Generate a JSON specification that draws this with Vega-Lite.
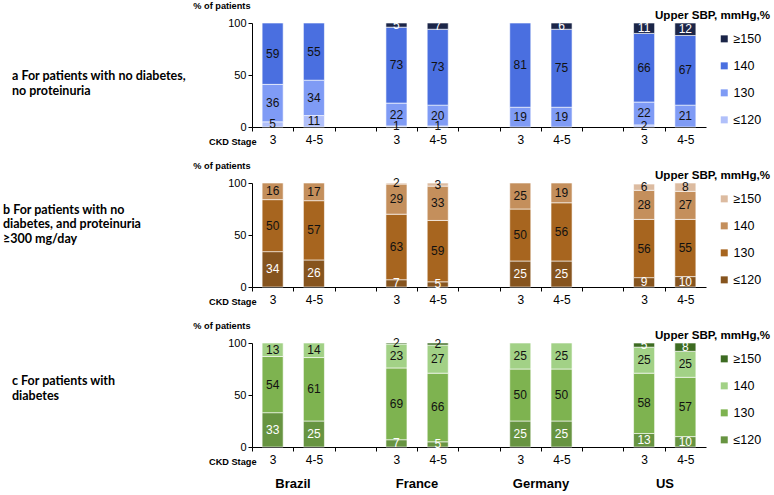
{
  "$schema": "https://vega.github.io/schema/vega-lite/v6.json",
  "padding": {"left": 3, "top": 1, "right": 0, "bottom": 0},
  "config": {
    "font": "Liberation Sans",
    "view": {"stroke": null},
    "axis": {"domainColor": "#000", "tickColor": "#000", "labelColor": "#000", "titleColor": "#000", "grid": false},
    "legend": {"orient": "none", "direction": "vertical", "legendX": 403, "legendY": -13, "titleFontSize": 11.6, "titleFontWeight": "bold", "titleColor": "#000", "titlePadding": 11, "symbolType": "square", "symbolSize": 49, "symbolOffset": 63, "symbolStrokeWidth": 0, "labelFontSize": 12.5, "labelColor": "#000", "rowPadding": 14, "labelOffset": 3},
    "title": {"orient": "top", "anchor": "start", "frame": "group", "offset": 0, "baseline": "top", "font": "Lato", "fontSize": 16, "fontWeight": "bold", "color": "rgba(0,0,0,0)", "subtitleFont": "Lato", "subtitleFontSize": 12.5, "subtitleFontWeight": "bold", "subtitleColor": "#000", "subtitlePadding": -15}
  },
  "datasets": {
    "panelA": [
      {"country": "Brazil", "slot": "Brazil|3", "sbp": "≤120", "k": 1, "v": 5},
      {"country": "Brazil", "slot": "Brazil|3", "sbp": "130", "k": 2, "v": 36},
      {"country": "Brazil", "slot": "Brazil|3", "sbp": "140", "k": 3, "v": 59},
      {"country": "Brazil", "slot": "Brazil|4-5", "sbp": "≤120", "k": 1, "v": 11},
      {"country": "Brazil", "slot": "Brazil|4-5", "sbp": "130", "k": 2, "v": 34},
      {"country": "Brazil", "slot": "Brazil|4-5", "sbp": "140", "k": 3, "v": 55},
      {"country": "France", "slot": "France|3", "sbp": "≤120", "k": 1, "v": 1},
      {"country": "France", "slot": "France|3", "sbp": "130", "k": 2, "v": 22},
      {"country": "France", "slot": "France|3", "sbp": "140", "k": 3, "v": 73},
      {"country": "France", "slot": "France|3", "sbp": "≥150", "k": 4, "v": 5},
      {"country": "France", "slot": "France|4-5", "sbp": "≤120", "k": 1, "v": 1},
      {"country": "France", "slot": "France|4-5", "sbp": "130", "k": 2, "v": 20},
      {"country": "France", "slot": "France|4-5", "sbp": "140", "k": 3, "v": 73},
      {"country": "France", "slot": "France|4-5", "sbp": "≥150", "k": 4, "v": 7},
      {"country": "Germany", "slot": "Germany|3", "sbp": "130", "k": 2, "v": 19},
      {"country": "Germany", "slot": "Germany|3", "sbp": "140", "k": 3, "v": 81},
      {"country": "Germany", "slot": "Germany|4-5", "sbp": "130", "k": 2, "v": 19},
      {"country": "Germany", "slot": "Germany|4-5", "sbp": "140", "k": 3, "v": 75},
      {"country": "Germany", "slot": "Germany|4-5", "sbp": "≥150", "k": 4, "v": 6},
      {"country": "US", "slot": "US|3", "sbp": "≤120", "k": 1, "v": 2},
      {"country": "US", "slot": "US|3", "sbp": "130", "k": 2, "v": 22},
      {"country": "US", "slot": "US|3", "sbp": "140", "k": 3, "v": 66},
      {"country": "US", "slot": "US|3", "sbp": "≥150", "k": 4, "v": 11},
      {"country": "US", "slot": "US|4-5", "sbp": "130", "k": 2, "v": 21},
      {"country": "US", "slot": "US|4-5", "sbp": "140", "k": 3, "v": 67},
      {"country": "US", "slot": "US|4-5", "sbp": "≥150", "k": 4, "v": 12}
    ],
    "panelB": [
      {"country": "Brazil", "slot": "Brazil|3", "sbp": "≤120", "k": 1, "v": 34},
      {"country": "Brazil", "slot": "Brazil|3", "sbp": "130", "k": 2, "v": 50},
      {"country": "Brazil", "slot": "Brazil|3", "sbp": "140", "k": 3, "v": 16},
      {"country": "Brazil", "slot": "Brazil|4-5", "sbp": "≤120", "k": 1, "v": 26},
      {"country": "Brazil", "slot": "Brazil|4-5", "sbp": "130", "k": 2, "v": 57},
      {"country": "Brazil", "slot": "Brazil|4-5", "sbp": "140", "k": 3, "v": 17},
      {"country": "France", "slot": "France|3", "sbp": "≤120", "k": 1, "v": 7},
      {"country": "France", "slot": "France|3", "sbp": "130", "k": 2, "v": 63},
      {"country": "France", "slot": "France|3", "sbp": "140", "k": 3, "v": 29},
      {"country": "France", "slot": "France|3", "sbp": "≥150", "k": 4, "v": 2},
      {"country": "France", "slot": "France|4-5", "sbp": "≤120", "k": 1, "v": 5},
      {"country": "France", "slot": "France|4-5", "sbp": "130", "k": 2, "v": 59},
      {"country": "France", "slot": "France|4-5", "sbp": "140", "k": 3, "v": 33},
      {"country": "France", "slot": "France|4-5", "sbp": "≥150", "k": 4, "v": 3},
      {"country": "Germany", "slot": "Germany|3", "sbp": "≤120", "k": 1, "v": 25},
      {"country": "Germany", "slot": "Germany|3", "sbp": "130", "k": 2, "v": 50},
      {"country": "Germany", "slot": "Germany|3", "sbp": "140", "k": 3, "v": 25},
      {"country": "Germany", "slot": "Germany|4-5", "sbp": "≤120", "k": 1, "v": 25},
      {"country": "Germany", "slot": "Germany|4-5", "sbp": "130", "k": 2, "v": 56},
      {"country": "Germany", "slot": "Germany|4-5", "sbp": "140", "k": 3, "v": 19},
      {"country": "US", "slot": "US|3", "sbp": "≤120", "k": 1, "v": 9},
      {"country": "US", "slot": "US|3", "sbp": "130", "k": 2, "v": 56},
      {"country": "US", "slot": "US|3", "sbp": "140", "k": 3, "v": 28},
      {"country": "US", "slot": "US|3", "sbp": "≥150", "k": 4, "v": 6},
      {"country": "US", "slot": "US|4-5", "sbp": "≤120", "k": 1, "v": 10},
      {"country": "US", "slot": "US|4-5", "sbp": "130", "k": 2, "v": 55},
      {"country": "US", "slot": "US|4-5", "sbp": "140", "k": 3, "v": 27},
      {"country": "US", "slot": "US|4-5", "sbp": "≥150", "k": 4, "v": 8}
    ],
    "panelC": [
      {"country": "Brazil", "slot": "Brazil|3", "sbp": "≤120", "k": 1, "v": 33},
      {"country": "Brazil", "slot": "Brazil|3", "sbp": "130", "k": 2, "v": 54},
      {"country": "Brazil", "slot": "Brazil|3", "sbp": "140", "k": 3, "v": 13},
      {"country": "Brazil", "slot": "Brazil|4-5", "sbp": "≤120", "k": 1, "v": 25},
      {"country": "Brazil", "slot": "Brazil|4-5", "sbp": "130", "k": 2, "v": 61},
      {"country": "Brazil", "slot": "Brazil|4-5", "sbp": "140", "k": 3, "v": 14},
      {"country": "France", "slot": "France|3", "sbp": "≤120", "k": 1, "v": 7},
      {"country": "France", "slot": "France|3", "sbp": "130", "k": 2, "v": 69},
      {"country": "France", "slot": "France|3", "sbp": "140", "k": 3, "v": 23},
      {"country": "France", "slot": "France|3", "sbp": "≥150", "k": 4, "v": 2},
      {"country": "France", "slot": "France|4-5", "sbp": "≤120", "k": 1, "v": 5},
      {"country": "France", "slot": "France|4-5", "sbp": "130", "k": 2, "v": 66},
      {"country": "France", "slot": "France|4-5", "sbp": "140", "k": 3, "v": 27},
      {"country": "France", "slot": "France|4-5", "sbp": "≥150", "k": 4, "v": 2},
      {"country": "Germany", "slot": "Germany|3", "sbp": "≤120", "k": 1, "v": 25},
      {"country": "Germany", "slot": "Germany|3", "sbp": "130", "k": 2, "v": 50},
      {"country": "Germany", "slot": "Germany|3", "sbp": "140", "k": 3, "v": 25},
      {"country": "Germany", "slot": "Germany|4-5", "sbp": "≤120", "k": 1, "v": 25},
      {"country": "Germany", "slot": "Germany|4-5", "sbp": "130", "k": 2, "v": 50},
      {"country": "Germany", "slot": "Germany|4-5", "sbp": "140", "k": 3, "v": 25},
      {"country": "US", "slot": "US|3", "sbp": "≤120", "k": 1, "v": 13},
      {"country": "US", "slot": "US|3", "sbp": "130", "k": 2, "v": 58},
      {"country": "US", "slot": "US|3", "sbp": "140", "k": 3, "v": 25},
      {"country": "US", "slot": "US|3", "sbp": "≥150", "k": 4, "v": 5},
      {"country": "US", "slot": "US|4-5", "sbp": "≤120", "k": 1, "v": 10},
      {"country": "US", "slot": "US|4-5", "sbp": "130", "k": 2, "v": 57},
      {"country": "US", "slot": "US|4-5", "sbp": "140", "k": 3, "v": 25},
      {"country": "US", "slot": "US|4-5", "sbp": "≥150", "k": 4, "v": 8}
    ],
    "countryNames": [
      {"country": "Brazil"}, {"country": "France"}, {"country": "Germany"}, {"country": "US"}
    ]
  },
  "bounds": "flush",
  "spacing": 56,
  "resolve": {"scale": {"color": "independent"}},
  "vconcat": [
    {
      "width": 454, "height": 104,
      "data": {"name": "panelA"},
      "title": {"text": "a", "subtitle": ["a  For patients with no diabetes,", "no proteinuria"], "dx": -240, "dy": 100},
      "transform": [
        {"stack": "v", "groupby": ["slot"], "sort": [{"field": "k", "order": "ascending"}], "as": ["y0", "y1"]},
        {"calculate": "(datum.y0 + datum.y1) / 2", "as": "ym"}
      ],
      "encoding": {
        "x": {"field": "slot", "type": "nominal", "scale": {"domain": ["Brazil|3", "Brazil|4-5", "g1", "France|3", "France|4-5", "g2", "Germany|3", "Germany|4-5", "g3", "US|3", "US|4-5"], "paddingInner": 0, "paddingOuter": 0},
          "axis": {"title": "CKD Stage", "titleFontWeight": "bold", "titleFontSize": 9.2, "titleAlign": "right", "titleX": 4, "titleY": 14, "titleBaseline": "middle", "labelAngle": 0, "labelFontSize": 12, "labelPadding": 3, "tickSize": 4, "tickOffset": -20.64, "labelOffset": 20.64, "labelExpr": "indexof(datum.value, '|') > 0 ? split(datum.value, '|')[1] : ''"}}
      },
      "layer": [
        {
          "mark": {"type": "bar", "width": {"band": 0.51}, "stroke": "#ffffff", "strokeWidth": 0.6},
          "encoding": {
            "y": {"field": "y0", "type": "quantitative", "scale": {"domain": [0, 100], "clamp": true}, "axis": {"title": "% of patients", "titleAngle": 0, "titleAlign": "right", "titleX": -2, "titleY": -18, "titleBaseline": "middle", "titleFontWeight": "bold", "titleFontSize": 9.2, "values": [0, 25, 50, 75, 100], "labelFontSize": 11, "tickSize": 4, "labelPadding": 2}},
            "y2": {"field": "y1"},
            "color": {"field": "sbp", "type": "nominal", "scale": {"domain": ["≥150", "140", "130", "≤120"], "range": ["#1b2548", "#4a6fe0", "#7f9bf5", "#b1c0fa"]}, "legend": {"title": "Upper SBP, mmHg,%"}}
          }
        },
        {
          "mark": {"type": "text", "fontSize": 12},
          "encoding": {
            "y": {"field": "ym", "type": "quantitative"},
            "text": {"field": "v"},
            "color": {"condition": {"test": "datum.sbp === '≥150'", "value": "#ffffff"}, "value": "#111111"}
          }
        }
      ]
    },
    {
      "width": 454, "height": 104,
      "data": {"name": "panelB"},
      "title": {"text": "b", "subtitle": ["b  For patients with no", "diabetes, and proteinuria", "≥300 mg/day"], "dx": -249, "dy": 88},
      "transform": [
        {"stack": "v", "groupby": ["slot"], "sort": [{"field": "k", "order": "ascending"}], "as": ["y0", "y1"]},
        {"calculate": "(datum.y0 + datum.y1) / 2", "as": "ym"}
      ],
      "encoding": {
        "x": {"field": "slot", "type": "nominal", "scale": {"domain": ["Brazil|3", "Brazil|4-5", "g1", "France|3", "France|4-5", "g2", "Germany|3", "Germany|4-5", "g3", "US|3", "US|4-5"], "paddingInner": 0, "paddingOuter": 0},
          "axis": {"title": "CKD Stage", "titleFontWeight": "bold", "titleFontSize": 9.2, "titleAlign": "right", "titleX": 4, "titleY": 14, "titleBaseline": "middle", "labelAngle": 0, "labelFontSize": 12, "labelPadding": 3, "tickSize": 4, "tickOffset": -20.64, "labelOffset": 20.64, "labelExpr": "indexof(datum.value, '|') > 0 ? split(datum.value, '|')[1] : ''"}}
      },
      "layer": [
        {
          "mark": {"type": "bar", "width": {"band": 0.51}, "stroke": "#ffffff", "strokeWidth": 0.6},
          "encoding": {
            "y": {"field": "y0", "type": "quantitative", "scale": {"domain": [0, 100], "clamp": true}, "axis": {"title": "% of patients", "titleAngle": 0, "titleAlign": "right", "titleX": -2, "titleY": -18, "titleBaseline": "middle", "titleFontWeight": "bold", "titleFontSize": 9.2, "values": [0, 25, 50, 75, 100], "labelFontSize": 11, "tickSize": 4, "labelPadding": 2}},
            "y2": {"field": "y1"},
            "color": {"field": "sbp", "type": "nominal", "scale": {"domain": ["≥150", "140", "130", "≤120"], "range": ["#dcbba0", "#c48f5c", "#a7651f", "#86541e"]}, "legend": {"title": "Upper SBP, mmHg,%"}}
          }
        },
        {
          "mark": {"type": "text", "fontSize": 12},
          "encoding": {
            "y": {"field": "ym", "type": "quantitative"},
            "text": {"field": "v"},
            "color": {"condition": {"test": "datum.sbp === '≤120'", "value": "#ffffff"}, "value": "#111111"}
          }
        }
      ]
    },
    {
      "bounds": "flush",
      "spacing": 27,
      "vconcat": [
        {
          "width": 454, "height": 104,
          "data": {"name": "panelC"},
          "title": {"text": "c", "subtitle": ["c  For patients with", "diabetes"], "dx": -240, "dy": 85},
          "transform": [
            {"stack": "v", "groupby": ["slot"], "sort": [{"field": "k", "order": "ascending"}], "as": ["y0", "y1"]},
            {"calculate": "(datum.y0 + datum.y1) / 2", "as": "ym"}
          ],
          "encoding": {
            "x": {"field": "slot", "type": "nominal", "scale": {"domain": ["Brazil|3", "Brazil|4-5", "g1", "France|3", "France|4-5", "g2", "Germany|3", "Germany|4-5", "g3", "US|3", "US|4-5"], "paddingInner": 0, "paddingOuter": 0},
              "axis": {"title": "CKD Stage", "titleFontWeight": "bold", "titleFontSize": 9.2, "titleAlign": "right", "titleX": 4, "titleY": 14, "titleBaseline": "middle", "labelAngle": 0, "labelFontSize": 12, "labelPadding": 3, "tickSize": 4, "tickOffset": -20.64, "labelOffset": 20.64, "labelExpr": "indexof(datum.value, '|') > 0 ? split(datum.value, '|')[1] : ''"}}
          },
          "layer": [
            {
              "mark": {"type": "bar", "width": {"band": 0.51}, "stroke": "#ffffff", "strokeWidth": 0.6},
              "encoding": {
                "y": {"field": "y0", "type": "quantitative", "scale": {"domain": [0, 100], "clamp": true}, "axis": {"title": "% of patients", "titleAngle": 0, "titleAlign": "right", "titleX": -2, "titleY": -18, "titleBaseline": "middle", "titleFontWeight": "bold", "titleFontSize": 9.2, "values": [0, 25, 50, 75, 100], "labelFontSize": 11, "tickSize": 4, "labelPadding": 2}},
                "y2": {"field": "y1"},
                "color": {"field": "sbp", "type": "nominal", "scale": {"domain": ["≥150", "140", "130", "≤120"], "range": ["#3d6b22", "#a2d186", "#7eb350", "#679441"]}, "legend": {"title": "Upper SBP, mmHg,%"}}
              }
            },
            {
              "mark": {"type": "text", "fontSize": 12},
              "encoding": {
                "y": {"field": "ym", "type": "quantitative"},
                "text": {"field": "v"},
                "color": {"condition": {"test": "datum.sbp === '≤120' || (datum.sbp === '≥150' && datum.country === 'US')", "value": "#ffffff"}, "value": "#111111"}
              }
            }
          ]
        },
        {
          "width": 454, "height": 20,
          "data": {"name": "countryNames"},
          "mark": {"type": "text", "fontWeight": "bold", "fontSize": 13, "color": "#000"},
          "encoding": {
            "x": {"field": "country", "type": "nominal", "scale": {"type": "point", "domain": ["Brazil", "France", "Germany", "US"], "padding": 0.3306}, "axis": null},
            "text": {"field": "country"}
          }
        }
      ]
    }
  ]
}
